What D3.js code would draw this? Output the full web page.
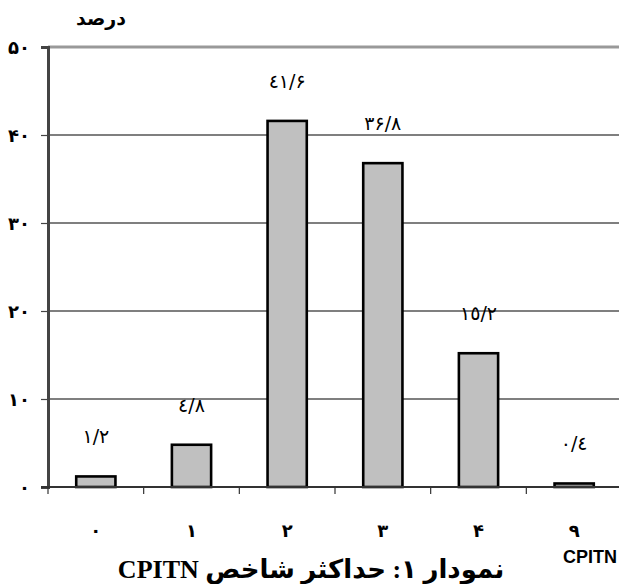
<!DOCTYPE html>
<html lang="fa">
<head>
<meta charset="UTF-8">
<title>نمودار ۱</title>
<script src="https://d3js.org/d3.v7.min.js"></script>
<style>
  body{margin:0;background:#fff}
  svg{display:block}
  .tick text{font-family:"DejaVu Sans",Arial,sans-serif}
</style>
</head>
<body>
<div id="chart"></div>
<script>
// داده‌ها
const categories=["۰","۱","۲","۳","۴","۹"];
const values=[1.2,4.8,41.6,36.8,15.2,0.4];
const valueLabels=["۱/۲","٤/۸","٤۱/۶","۳۶/۸","۱٥/۲","۰/٤"];
const yTicks=[0,10,20,30,40,50];
const yTickLabels=["۰","۱۰","۲۰","۳۰","۴۰","۵۰"];

const W=619,H=584;
const m={top:47,right:-3,bottom:97,left:48};

const svg=d3.select("#chart").append("svg").attr("width",W).attr("height",H);

const x=d3.scaleBand().domain(categories).range([m.left,W-m.right]).paddingInner(0.59).paddingOuter(0.295);
const y=d3.scaleLinear().domain([0,50]).range([H-m.bottom,m.top]);

/* --- خطوط شبکه --- */
svg.append("g").selectAll("line").data(yTicks.filter(t=>t>0)).join("line")
  .attr("x1",m.left).attr("x2",W)
  .attr("y1",d=>y(d)).attr("y2",d=>y(d))
  .attr("stroke",d=>d===50?"#999":"#000")
  .attr("stroke-width",d=>d===50?3:1.2);

/* --- میله‌ها --- */
svg.append("g").selectAll("rect").data(values).join("rect")
  .attr("x",(d,i)=>x(categories[i]))
  .attr("y",d=>y(d))
  .attr("width",x.bandwidth())
  .attr("height",d=>y(0)-y(d))
  .attr("fill","#c0c0c0").attr("stroke","#000").attr("stroke-width",2.6);

/* --- برچسب مقادیر --- */
svg.append("g").selectAll("text").data(values).join("text")
  .attr("x",(d,i)=>x(categories[i])+x.bandwidth()/2)
  .attr("y",d=>y(d)-33)
  .attr("text-anchor","middle")
  .style("font-family","'DejaVu Sans',sans-serif").style("font-size","19px")
  .text((d,i)=>valueLabels[i]);

/* --- محور y --- */
const yAxis=d3.axisLeft(y).tickValues(yTicks).tickSize(7).tickPadding(11)
  .tickFormat((d,i)=>yTickLabels[i]);
const gy=svg.append("g").attr("transform",`translate(${m.left},0)`).call(yAxis);
gy.select(".domain").attr("stroke","#444").attr("stroke-width",3);
gy.selectAll(".tick line").attr("stroke","#444").attr("stroke-width",1.2);
gy.selectAll(".tick text").style("font-size","18px").style("font-weight","bold").attr("dy","0.35em");

/* --- محور x --- */
svg.append("line").attr("x1",m.left-7).attr("x2",W)
  .attr("y1",y(0)).attr("y2",y(0)).attr("stroke","#333").attr("stroke-width",2);
const step=x.step(), x0=m.left;
svg.append("g").selectAll("line").data(d3.range(categories.length+1)).join("line")
  .attr("x1",i=>x0+i*step).attr("x2",i=>x0+i*step)
  .attr("y1",y(0)).attr("y2",y(0)+7)
  .attr("stroke","#333").attr("stroke-width",1.2);
svg.append("g").selectAll("text").data(categories).join("text")
  .attr("x",d=>x(d)+x.bandwidth()/2).attr("y",H-m.bottom+50)
  .attr("text-anchor","middle")
  .style("font-family","'DejaVu Sans',sans-serif").style("font-size","18px").style("font-weight","bold")
  .text(d=>d);

/* --- عناوین --- */
svg.append("text").attr("x",101).attr("y",25).attr("text-anchor","middle")
  .style("font-family","'DejaVu Sans',sans-serif").style("font-size","19px").style("font-weight","bold")
  .text("درصد");
svg.append("text").attr("x",617).attr("y",563).attr("text-anchor","end")
  .style("font-family","'Liberation Sans',Arial,sans-serif").style("font-size","18px").style("font-weight","bold")
  .text("CPITN");
svg.append("text").attr("x",311).attr("y",578).attr("text-anchor","middle").attr("direction","rtl")
  .style("font-family","'Liberation Serif','DejaVu Sans',serif").style("font-size","26px").style("font-weight","bold")
  .text("نمودار ۱: حداکثر شاخص CPITN");
</script>
</body>
</html>
